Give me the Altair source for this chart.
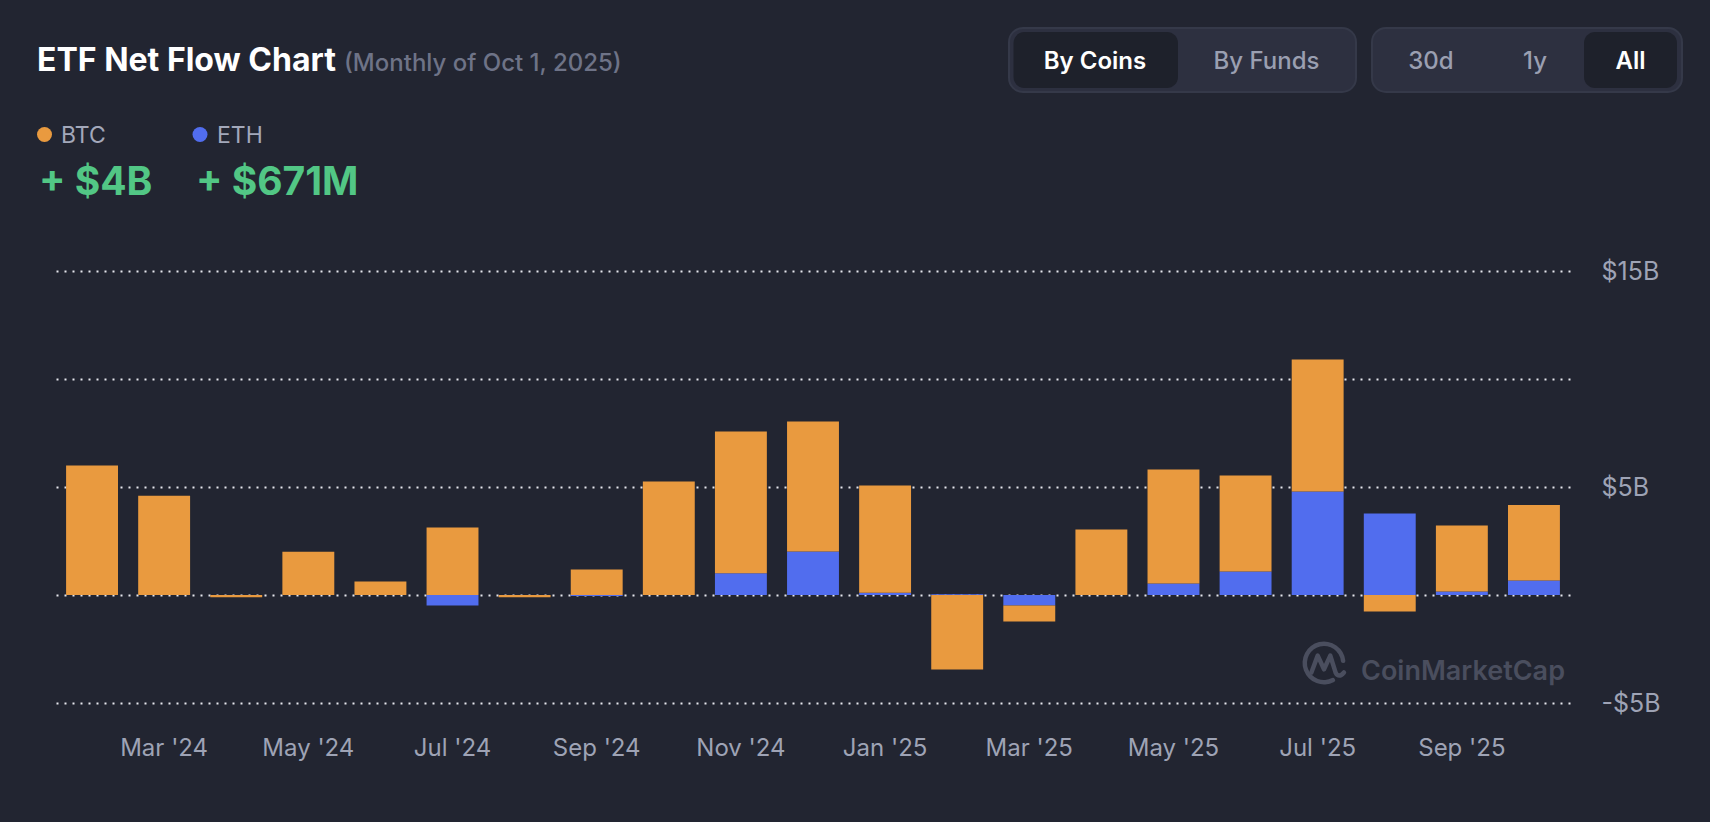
import altair as alt
import pandas as pd

# Monthly spot ETF net flows, in billions of USD
months = ["Feb '24", "Mar '24", "Apr '24", "May '24", "Jun '24", "Jul '24", "Aug '24",
          "Sep '24", "Oct '24", "Nov '24", "Dec '24", "Jan '25", "Feb '25", "Mar '25",
          "Apr '25", "May '25", "Jun '25", "Jul '25", "Aug '25", "Sep '25", "Oct '25"]
btc_flow = [6.0, 4.6, -0.1, 2.0, 0.62, 3.12, -0.1, 1.18, 5.25, 6.56, 6.02, 4.97,
            -3.45, -0.74, 3.03, 5.28, 4.44, 6.11, -0.76, 3.06, 3.5]
eth_flow = [0.0, 0.0, 0.0, 0.0, 0.0, -0.49, 0.0, -0.05, 0.0, 1.01, 2.01, 0.1,
            0.04, -0.49, 0.0, 0.53, 1.09, 4.79, 3.77, 0.16, 0.671]

coins = ["BTC", "ETH"]
coin_colors = ["#E99A3F", "#516DEE"]
x_tick_labels = months[1::2]
y_ticks = [-5, 0, 5, 10, 15]

BG = "#222531"
FONT = "Inter"
W, H = 1514, 432

rows = []
for i, m in enumerate(months):
    rows.append({"month": m, "coin": "ETH", "flow": eth_flow[i], "stack_order": 0})
    rows.append({"month": m, "coin": "BTC", "flow": btc_flow[i], "stack_order": 1})
flows = pd.DataFrame(rows)

bars = alt.Chart(flows).mark_bar().encode(
    x=alt.X("month:N", sort=months,
            scale=alt.Scale(paddingInner=0.28, paddingOuter=0.14),
            axis=alt.Axis(values=x_tick_labels, title=None, labelAngle=0,
                          labelFont=FONT, labelFontSize=24, labelColor="#9EA3B5",
                          labelBaseline="alphabetic", labelPadding=52,
                          ticks=False, domain=False, grid=False)),
    y=alt.Y("flow:Q", stack="zero",
            scale=alt.Scale(domain=[-5, 15], nice=False, zero=False),
            axis=alt.Axis(values=y_ticks, orient="right", title=None,
                          labelExpr="datum.value == 15 ? '$15B' : datum.value == 5 ? '$5B' : datum.value == -5 ? '-$5B' : ''",
                          labelFont=FONT, labelFontSize=25, labelColor="#9EA3B5",
                          labelPadding=31, ticks=False, domain=False,
                          grid=True, gridColor="#E6E8EE", gridDash=[2, 6],
                          gridWidth=2)),
    color=alt.Color("coin:N", scale=alt.Scale(domain=coins, range=coin_colors),
                    legend=None),
    order=alt.Order("stack_order:Q", sort="ascending"),
)


def label(text, x, y, size, color, weight="normal", align="left", baseline="alphabetic"):
    return alt.Chart(pd.DataFrame({"t": [text]})).mark_text(
        font=FONT, fontSize=size, color=color, fontWeight=weight,
        align=align, baseline=baseline,
    ).encode(x=alt.value(x), y=alt.value(y), text="t:N")


def box(x1, x2, y1, y2, fill, radius, stroke=None):
    kw = dict(fill=fill, cornerRadius=radius)
    if stroke:
        kw.update(stroke=stroke, strokeWidth=2)
    return alt.Chart(pd.DataFrame({"k": [0]})).mark_rect(**kw).encode(
        x=alt.value(x1), x2=alt.value(x2), y=alt.value(y1), y2=alt.value(y2))


def dot(x, y, color):
    return alt.Chart(pd.DataFrame({"k": [0]})).mark_point(
        shape="circle", filled=True, size=225, color=color, opacity=1
    ).encode(x=alt.value(x), y=alt.value(y))


header = [
    label("ETF Net Flow Chart", -19, -200, 32, "#FFFFFF", "bold"),
    label("(Monthly of Oct 1, 2025)", 288, -200, 24, "#6E7387", 500),
    dot(-11.5, -136.5, coin_colors[0]),
    label("BTC", 5, -128, 23, "#A3A8BA"),
    dot(144, -136.5, coin_colors[1]),
    label("ETH", 161, -128, 23, "#A3A8BA"),
    label("+ $4B", -17, -76, 39, "#52C785", "bold"),
    label("+ $671M", 140, -76, 39, "#52C785", "bold"),
]

# Toggle buttons in the header
buttons = [
    box(953, 1300, -243, -179, "#2D3040", 14, "#353949"),
    box(957.5, 1122, -239, -183, "#1E212B", 11),
    label("By Coins", 1039, -209, 24, "#FFFFFF", 600, "center", "middle"),
    label("By Funds", 1210.5, -209, 24, "#9A9FB1", 500, "center", "middle"),
    box(1316, 1626, -243, -179, "#2D3040", 14, "#353949"),
    box(1528, 1621, -239, -183, "#1E212B", 11),
    label("30d", 1375, -209, 24, "#9A9FB1", 500, "center", "middle"),
    label("1y", 1479, -209, 24, "#9A9FB1", 500, "center", "middle"),
    label("All", 1574.5, -209, 24, "#FFFFFF", 600, "center", "middle"),
]

# Watermark: open ring with a wave inside, then the wordmark
MARK = "#4A4E5E"
wave_path = "M-0.6,0.45 L-0.3,-0.35 L0.0,0.3 L0.3,-0.35 L0.55,0.45 Q0.7,0.75 0.95,0.45"
watermark = [
    alt.Chart(pd.DataFrame({"k": [0]})).mark_arc(
        theta=2.55, theta2=7.85, radius=21.5, radius2=17, cornerRadius=2, fill=MARK
    ).encode(x=alt.value(1268), y=alt.value(392)),
    alt.Chart(pd.DataFrame({"k": [0]})).mark_point(
        shape=wave_path, filled=False, size=1764, stroke=MARK, strokeWidth=4.5,
        opacity=1, strokeCap="round", strokeJoin="round"
    ).encode(x=alt.value(1268), y=alt.value(392)),
    label("CoinMarketCap", 1305, 409, 27, MARK, 600),
]

chart = alt.layer(bars, *header, *buttons, *watermark).properties(
    width=W, height=H,
    autosize=alt.AutoSizeParams(type="none"),
    padding={"left": 56, "top": 271, "right": 140, "bottom": 119},
).configure(background=BG).configure_view(stroke=None)

chart.save("out.html", embed_options={"renderer": "svg", "actions": False})
